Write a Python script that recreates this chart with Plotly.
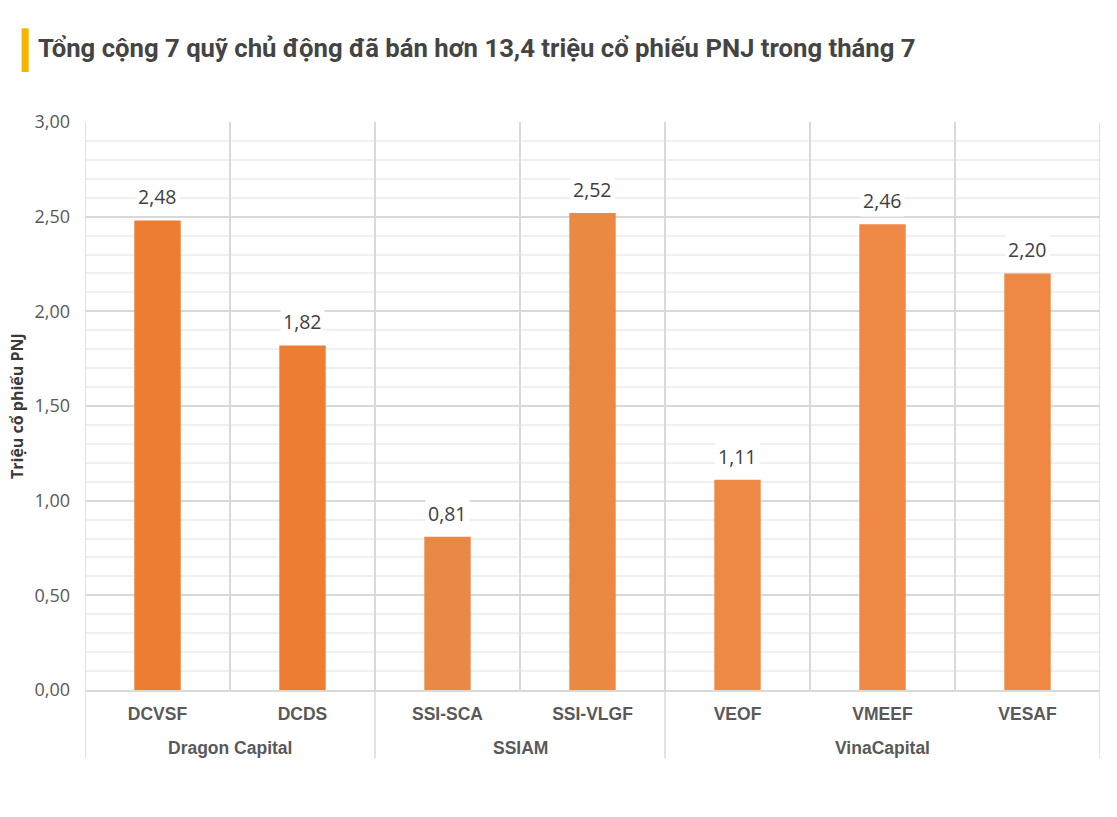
import plotly.graph_objects as go

# số liệu (triệu cổ phiếu)
groups = ["Dragon Capital", "Dragon Capital", "SSIAM", "SSIAM",
          "VinaCapital", "VinaCapital", "VinaCapital"]
funds = ["DCVSF", "DCDS", "SSI-SCA", "SSI-VLGF", "VEOF", "VMEEF", "VESAF"]
values = [2.48, 1.82, 0.81, 2.52, 1.11, 2.46, 2.20]
bar_colors = ["#ED7D31", "#ED7D31", "#E88A45", "#EA8A42",
              "#EF8845", "#EF8845", "#EF8845"]
y_ticks = [0, 0.5, 1, 1.5, 2, 2.5, 3]
y_tick_text = ["0,00", "0,50", "1,00", "1,50", "2,00", "2,50", "3,00"]

title = "Tổng cộng 7 quỹ chủ động đã bán hơn 13,4 triệu cổ phiếu PNJ trong tháng 7"
line_col = "#D9D9D9"

fig = go.Figure()
fig.add_trace(go.Bar(
    x=funds,
    y=values,
    marker=dict(color=bar_colors, line=dict(width=0)),
    width=0.32,
    customdata=groups,
    hovertemplate="%{customdata} - %{x}: %{y}<extra></extra>",
))

# nhãn giá trị có nền trắng như trong Excel
for f, v in zip(funds, values):
    fig.add_annotation(
        x=f, y=v, text=f"{v:.2f}".replace(".", ","),
        showarrow=False, yanchor="bottom", yshift=7,
        bgcolor="white", borderpad=2,
        font=dict(family="Open Sans", size=19.5, color="#404040"),
    )

# nhóm công ty quản lý quỹ: nhãn + đường chia
names = []
for g in groups:
    if g not in names:
        names.append(g)
edges = [-0.5]
for g in names:
    idx = [i for i, x in enumerate(groups) if x == g]
    fig.add_annotation(
        x=sum(idx) / len(idx), y=-0.102, xref="x", yref="paper",
        text=f"<b>{g}</b>", showarrow=False, yanchor="middle",
        font=dict(family="Liberation Sans", size=17.5, color="#595959"),
    )
    edges.append(idx[-1] + 0.5)
for e in edges:
    fig.add_shape(type="line", xref="x", yref="paper", x0=e, x1=e,
                  y0=-0.12, y1=1, line=dict(color=line_col, width=1.5))

# vạch vàng trước tiêu đề
fig.add_shape(type="rect", xref="paper", yref="paper",
              x0=-0.0625, x1=-0.0555, y0=1.088, y1=1.165,
              fillcolor="#F7B500", line=dict(width=0))

# tiêu đề trục tung
fig.add_annotation(
    x=(17 - 85) / 1015, y=0.5, xref="paper", yref="paper",
    xanchor="center", yanchor="middle",
    text="<b>Triệu cổ phiếu PNJ</b>", showarrow=False, textangle=-90,
    font=dict(family="Open Sans", size=16, color="#3A3A3A"),
)

fig.update_layout(
    width=1117, height=817,
    margin=dict(l=85, r=17, t=122, b=127),
    paper_bgcolor="white", plot_bgcolor="white",
    showlegend=False,
    title=dict(text=f"<b>{title}</b>", x=0.034, xref="container", y=0.941, yref="container",
               xanchor="left", yanchor="middle",
               font=dict(family="Roboto", size=25.7, color="#444444")),
    xaxis=dict(
        type="category", categoryorder="array", categoryarray=funds,
        range=[-0.5, len(funds) - 0.5],
        tickson="boundaries", automargin=False,
        showgrid=True, gridcolor=line_col, gridwidth=1.5,
        showline=True, linecolor=line_col, linewidth=1.5,
        ticks="", ticklabelstandoff=7,
        tickfont=dict(family="Liberation Sans", size=17.5, color="#595959", weight="bold"),
    ),
    yaxis=dict(
        range=[0, 3], automargin=False,
        tickvals=y_ticks, ticktext=y_tick_text,
        showgrid=True, gridcolor=line_col, gridwidth=1.5,
        zeroline=False,
        tickfont=dict(family="Open Sans", size=18, color="#595959"),
        ticklabelstandoff=14,
        minor=dict(dtick=0.1, showgrid=True, gridcolor="#F0F0F0", gridwidth=1.5),
    ),
)

fig.write_html("out.html", config={"displayModeBar": False},
               post_script="document.body.style.margin='0';")
